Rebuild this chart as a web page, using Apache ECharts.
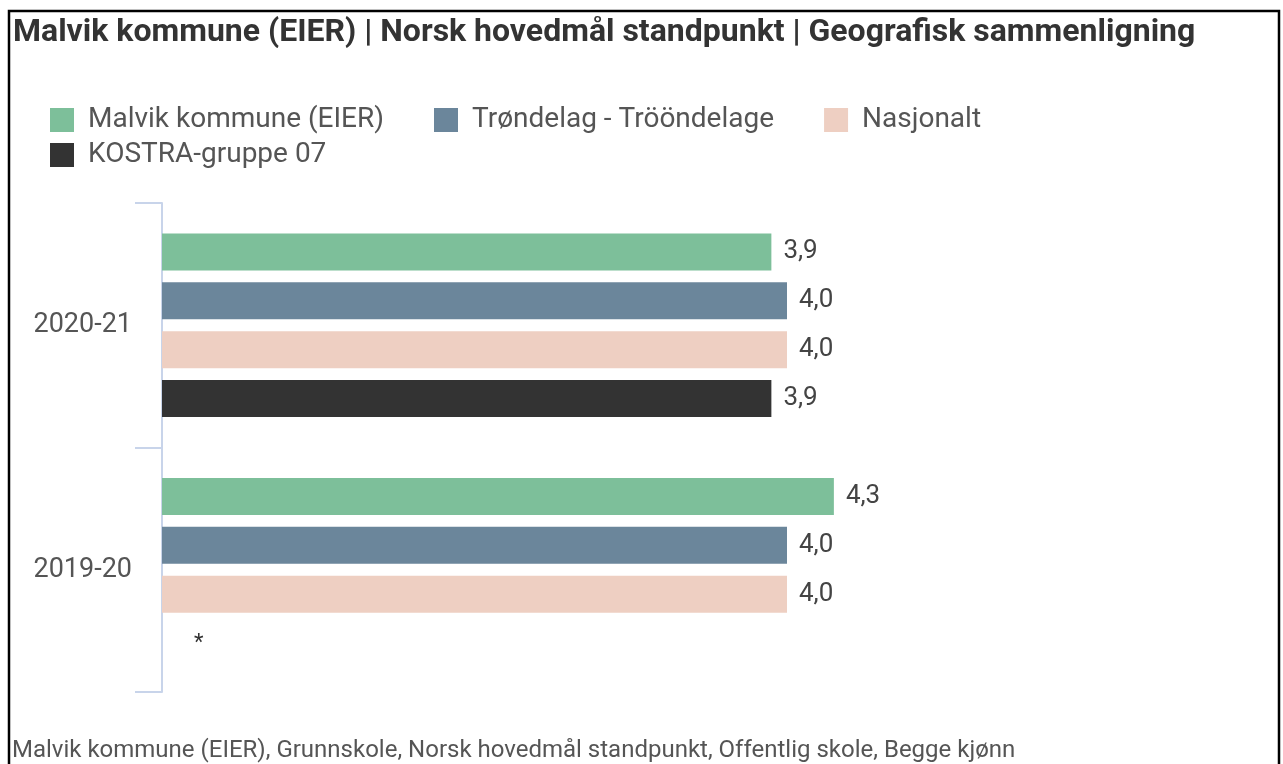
<!DOCTYPE html>
<html>
<head>
<meta charset="utf-8">
<script src="https://cdn.jsdelivr.net/npm/echarts@6/dist/echarts.min.js"></script>
<style>
  html, body { margin: 0; padding: 0; background: #fff; }
  #chart { width: 1283px; height: 764px; }
</style>
</head>
<body>
<div id="chart"></div>
<script>
// data
var years = ['2020-21', '2019-20']
var seriesNames = ['Malvik kommune (EIER)', 'Trøndelag - Trööndelage', 'Nasjonalt', 'KOSTRA-gruppe 07']
var malvik = [3.9, 4.3]
var trondelag = [4.0, 4.0]
var nasjonalt = [4.0, 4.0]
var kostra = [3.9, null] // 2019-20 mangler -> "*"
var colors = ['#7dbf9a', '#6b869b', '#eecfc2', '#333333']

var chart = echarts.init(document.getElementById('chart'))

var valueLabel = {
  show: true,
  position: 'right',
  distance: 12,
  fontFamily: 'Roboto',
  fontSize: 26,
  color: '#444',
  formatter: function (p) {
    if (p.value === 0) return '*'
    return p.value.toFixed(1).replace('.', ',')
  }
}

function mk(i, values) {
  return {
    name: seriesNames[i],
    type: 'bar',
    barWidth: 37,
    barGap: '32%',
    itemStyle: { color: colors[i] },
    label: valueLabel,
    emphasis: { disabled: true },
    data: values.map(function (v) {
      if (v === null) {
        return { value: 0, label: { distance: 32, color: '#333', fontSize: 22 } }
      }
      return v
    })
  }
}

var legendText = { fontFamily: 'Roboto', fontSize: 28, color: '#555', padding: [0, 0, 0, 9] }

var option = {
  animation: false,
  textStyle: { fontFamily: 'Roboto' },
  title: {
    text: 'Malvik kommune (EIER) | Norsk hovedmål standpunkt | Geografisk sammenligning',
    left: 8,
    top: 12,
    textStyle: { fontFamily: 'Roboto', fontWeight: 'bold', fontSize: 32, color: '#333' }
  },
  legend: [
    {
      left: 45,
      top: 101,
      itemWidth: 24,
      itemHeight: 24,
      itemGap: 50,
      icon: 'rect',
      textStyle: legendText,
      data: seriesNames.slice(0, 3)
    },
    {
      left: 45,
      top: 136,
      itemWidth: 24,
      itemHeight: 24,
      icon: 'rect',
      textStyle: legendText,
      data: seriesNames.slice(3)
    }
  ],
  grid: { left: 162, top: 203, width: 937.5, bottom: 72, containLabel: false },
  xAxis: {
    type: 'value',
    min: 0,
    max: 6,
    show: false
  },
  yAxis: {
    type: 'category',
    inverse: true,
    data: years,
    axisLine: { show: true, lineStyle: { color: '#c8d4ea', width: 2 } },
    axisTick: { show: true, length: 27, lineStyle: { color: '#c8d4ea', width: 2 } },
    axisLabel: { fontFamily: 'Roboto', fontSize: 27, color: '#555', margin: 30 }
  },
  series: [mk(0, malvik), mk(1, trondelag), mk(2, nasjonalt), mk(3, kostra)],
  graphic: [
    {
      type: 'rect',
      shape: { x: 9, y: 11, width: 1270, height: 800 },
      style: { fill: 'none', stroke: '#000', lineWidth: 2.5 },
      silent: true
    },
    {
      type: 'text',
      left: 12,
      top: 739,
      style: {
        text: 'Malvik kommune (EIER), Grunnskole, Norsk hovedmål standpunkt, Offentlig skole, Begge kjønn',
        fontFamily: 'Roboto',
        fontSize: 24,
        fill: '#555'
      }
    }
  ]
}

chart.setOption(option)
window.addEventListener('resize', function () { chart.resize() })
</script>
</body>
</html>
